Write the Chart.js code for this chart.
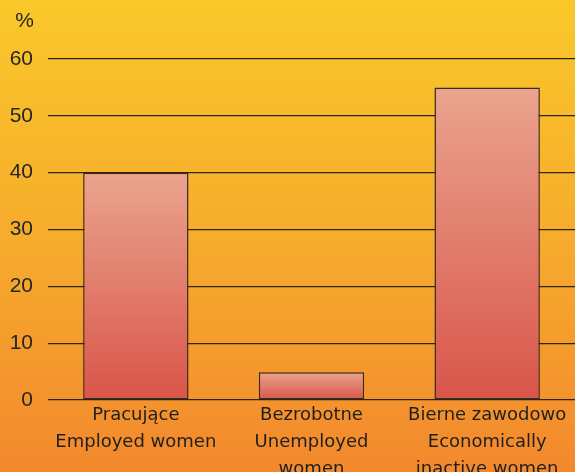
<!DOCTYPE html>
<html>
<head>
<meta charset="utf-8">
<script src="https://cdn.jsdelivr.net/npm/chart.js@4/dist/chart.umd.min.js"></script>
<style>
html,body{margin:0;padding:0;background:#f5a82e;}
#wrap{width:575px;height:472px;position:relative;}
</style>
</head>
<body>
<div id="wrap"><canvas id="c" width="575" height="472"></canvas></div>
<script>
const categories = [
  ["Pracujące", "Employed women"],
  ["Bezrobotne", "Unemployed", "women"],
  ["Bierne zawodowo", "Economically", "inactive women"]
];
const values = [40.0, 4.9, 55.0];
const yTicks = [0, 10, 20, 30, 40, 50, 60];
const unitLabel = "%";

const bgPlugin = {
  id: 'bg',
  beforeDraw(chart) {
    const ctx = chart.ctx;
    const g = ctx.createLinearGradient(0, 0, 0, chart.height);
    g.addColorStop(0, '#f9c82a');
    g.addColorStop(0.5, '#f6ac2c');
    g.addColorStop(1, '#f3882d');
    ctx.save();
    ctx.fillStyle = g;
    ctx.fillRect(0, 0, chart.width, chart.height);
    ctx.restore();
  },
  afterDraw(chart) {
    const ctx = chart.ctx;
    ctx.save();
    ctx.fillStyle = '#262626';
    ctx.font = '21px "Liberation Sans", Arial, sans-serif';
    ctx.textAlign = 'right';
    ctx.textBaseline = 'middle';
    ctx.fillText(unitLabel, 34, 21);
    ctx.restore();
  }
};

function barFill(context) {
  const chart = context.chart;
  const y = chart.scales && chart.scales.y;
  if (!chart.chartArea || !y) return '#e07a68';
  const v = context.raw;
  const top = y.getPixelForValue(v);
  const base = y.getPixelForValue(0);
  if (!isFinite(top) || !isFinite(base) || top === base) return '#e07a68';
  const g = chart.ctx.createLinearGradient(0, top, 0, base);
  g.addColorStop(0, '#eaa48e');
  g.addColorStop(1, '#d9554a');
  return g;
}

new Chart(document.getElementById('c'), {
  type: 'bar',
  data: {
    labels: categories,
    datasets: [{
      data: values,
      backgroundColor: barFill,
      borderColor: '#3a2a22',
      borderWidth: 1.5,
      borderSkipped: false,
      categoryPercentage: 1,
      barPercentage: 0.6
    }]
  },
  plugins: [bgPlugin],
  options: {
    responsive: false,
    animation: false,
    devicePixelRatio: 1,
    layout: { padding: { top: 59, right: 0, left: 0, bottom: 0 } },
    plugins: { legend: { display: false }, tooltip: { enabled: false } },
    scales: {
      x: {
        grid: { display: false, drawTicks: false },
        border: { display: false },
        ticks: {
          color: '#1f1f1f',
          font: { family: '"DejaVu Sans", Verdana, sans-serif', size: 18, lineHeight: 1.5 },
          padding: 2,
          maxRotation: 0,
          autoSkip: false
        },
        afterFit(axis) { axis.height = 72; }
      },
      y: {
        min: 0,
        max: 60,
        afterBuildTicks(axis) { axis.ticks = yTicks.map(v => ({ value: v })); },
        grid: { color: '#2e2418', lineWidth: 1.3, drawTicks: false },
        border: { display: false },
        ticks: {
          color: '#262626',
          font: { family: '"Liberation Sans", Arial, sans-serif', size: 21 },
          padding: 15
        },
        afterFit(axis) { axis.width = 48; }
      }
    }
  }
});
</script>
</body>
</html>
